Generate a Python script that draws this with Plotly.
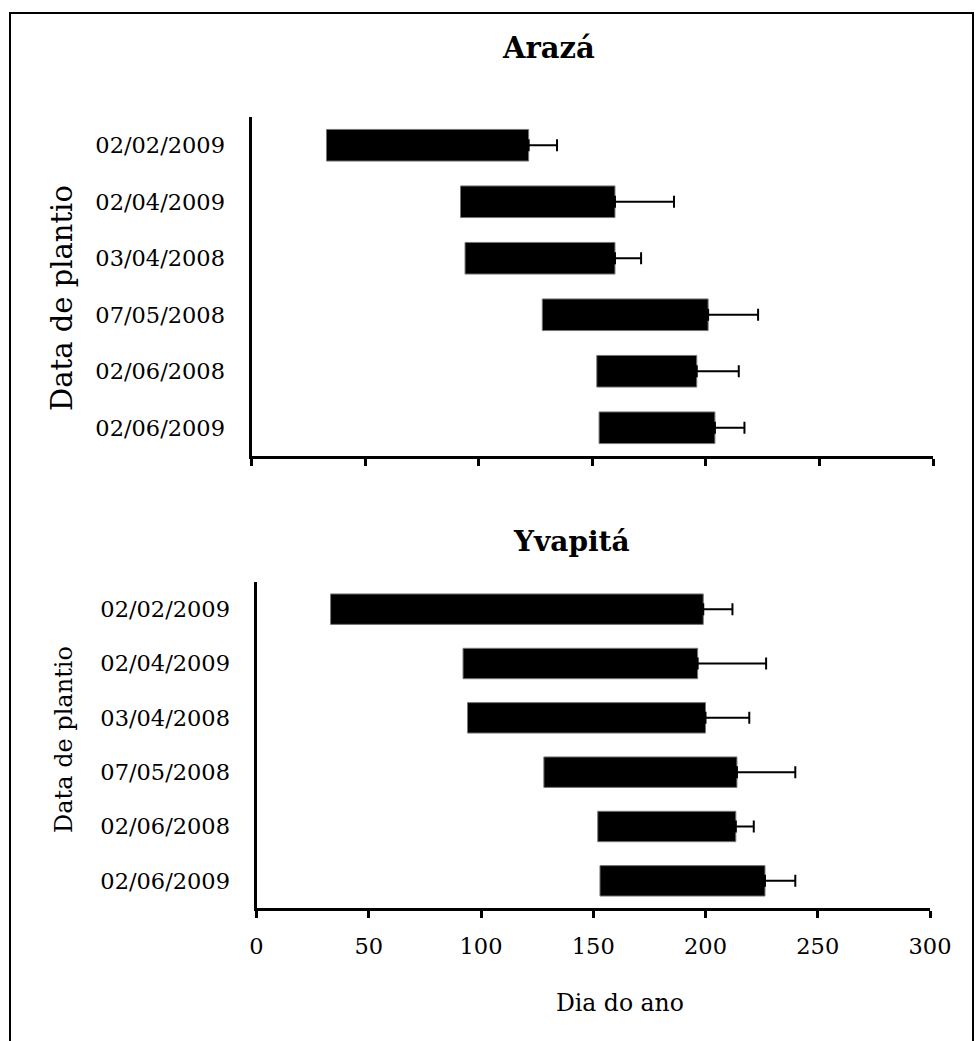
import plotly.graph_objects as go

W, H = 979, 1041

categories = ["02/02/2009", "02/04/2009", "03/04/2008", "07/05/2008", "02/06/2008", "02/06/2009"]

araza_start = [33, 92, 94, 128, 152, 153]
araza_end = [122, 160, 160, 201, 196, 204]
araza_err = [12.5, 26, 11.5, 22, 18.5, 13]

yvapita_start = [33, 92, 94, 128, 152, 153]
yvapita_end = [199, 196.5, 200, 214, 213.5, 226.5]
yvapita_err = [13, 30.5, 19.5, 26, 8, 13.5]

x_ticks = [0, 50, 100, 150, 200, 250, 300]

FONT = "DejaVu Serif"


def px(x):
    return x / W


def py(y):
    return 1 - y / H


fig = go.Figure()

for start, end, err, xa, ya in [
    (araza_start, araza_end, araza_err, "x", "y"),
    (yvapita_start, yvapita_end, yvapita_err, "x2", "y2"),
]:
    fig.add_trace(go.Bar(
        orientation="h",
        y=categories,
        x=[e - s for s, e in zip(start, end)],
        base=start,
        width=0.56,
        marker=dict(color="black", line=dict(color="#777777", width=1)),
        xaxis=xa, yaxis=ya,
        showlegend=False, hoverinfo="skip",
    ))
    fig.add_trace(go.Scatter(
        x=end, y=categories, mode="markers",
        marker=dict(size=1, color="rgba(0,0,0,0)"),
        error_x=dict(type="data", symmetric=False, array=err,
                     arrayminus=[0] * len(err), color="black",
                     thickness=2, width=6),
        xaxis=xa, yaxis=ya,
        showlegend=False, hoverinfo="skip",
    ))

common_x = dict(range=[0, 300], showline=True, linewidth=3, linecolor="black",
                ticks="outside", ticklen=7, tickwidth=2.5, tickcolor="black",
                tickvals=x_ticks, showgrid=False, zeroline=False, automargin=False,
                tickfont=dict(family=FONT, size=22.5, color="black"))
common_y = dict(type="category", categoryorder="array", categoryarray=categories,
                range=[5.5, -0.5], showline=True, linewidth=3, linecolor="black",
                ticks="", showgrid=False, zeroline=False, automargin=False,
                ticklabelstandoff=19,
                tickfont=dict(family=FONT, size=22.5, color="black"))

fig.update_layout(
    width=W, height=H, autosize=False,
    margin=dict(l=0, r=0, t=0, b=0, pad=0, autoexpand=False),
    paper_bgcolor="white", plot_bgcolor="white",
    xaxis=dict(domain=[px(251.5), px(933)], anchor="y", showticklabels=False, **common_x),
    yaxis=dict(domain=[py(456), py(117)], anchor="x", **common_y),
    xaxis2=dict(domain=[px(256.5), px(930)], anchor="y2", showticklabels=True,
                ticklabelstandoff=9, **common_x),
    yaxis2=dict(domain=[py(908), py(582)], anchor="x2", **common_y),
    font=dict(family=FONT, color="black"),
)

annots = [
    dict(text="<b>Arazá</b>", x=px(548), y=py(48), size=29, angle=0),
    dict(text="<b>Yvapitá</b>", x=px(571), y=py(541), size=28, angle=0),
    dict(text="Data de plantio", x=px(62), y=py(298), size=29, angle=-90),
    dict(text="Data de plantio", x=px(64), y=py(740), size=24, angle=-90),
    dict(text="Dia do ano", x=px(620), y=py(1003), size=23.5, angle=0),
]
for a in annots:
    fig.add_annotation(text=a["text"], x=a["x"], y=a["y"], xref="paper", yref="paper",
                       showarrow=False, textangle=a["angle"],
                       xanchor="center", yanchor="middle",
                       font=dict(family=FONT, size=a["size"], color="black"))

fig.add_shape(type="rect", xref="paper", yref="paper",
              x0=px(10), x1=px(973), y0=-0.05, y1=py(13),
              line=dict(color="black", width=2), fillcolor="rgba(0,0,0,0)")

fig.write_html("out.html")
